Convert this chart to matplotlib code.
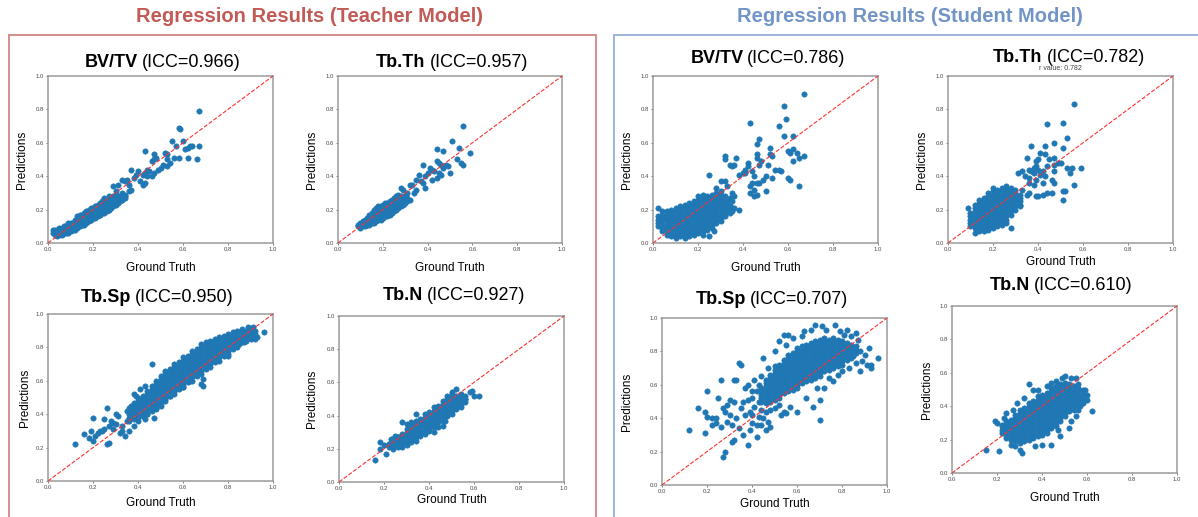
import matplotlib
matplotlib.use("Agg")
import matplotlib.pyplot as plt
from matplotlib.patches import Rectangle

# ------------------------------------------------------------------ data
group_titles = ["Regression Results (Teacher Model)", "Regression Results (Student Model)"]
metric_names = ["BV/TV", "Tb.Th", "Tb.Sp", "Tb.N"]
teacher_icc = [0.966, 0.957, 0.950, 0.927]
student_icc = [0.786, 0.782, 0.707, 0.610]
r_value_note = "r value: 0.782"
tick_values = [0.0, 0.2, 0.4, 0.6, 0.8, 1.0]
tick_labels = ["0.0", "0.2", "0.4", "0.6", "0.8", "1.0"]
x_label = "Ground Truth"
y_label = "Predictions"

# Dense cores: ground-truth column (hundredths) -> predicted values (hundredths)
# Sparse points: (ground truth, prediction)
bvtv_teacher_core = {
    2: [6, 8], 3: [5, 7, 8], 4: [4, 6, 8], 5: [5, 7, 9], 6: [5, 7, 9], 7: [6, 8, 10],
    8: [6, 8, 10], 9: [6, 8, 10, 12], 10: [7, 9, 11, 12], 11: [8, 10, 12], 12: [8, 10, 12, 14],
    13: [9, 11, 13, 16], 14: [10, 12, 14, 17], 15: [11, 13, 15, 17], 16: [11, 13, 15, 18],
    17: [12, 14, 16, 19], 18: [13, 15, 17, 20], 19: [14, 16, 18, 21], 20: [15, 17, 19, 21],
    21: [15, 17, 19, 22], 22: [16, 18, 20, 23], 23: [17, 19, 21, 24], 24: [18, 20, 22, 25],
    25: [18, 20, 22, 24, 27], 26: [19, 21, 23, 25], 27: [20, 22, 24, 26, 28], 28: [21, 23, 25, 27],
    29: [22, 24, 26, 28], 30: [23, 25, 27, 29], 31: [24, 26, 28], 32: [25, 27], 33: [26, 28], 34: [27, 29],
}
bvtv_teacher_sparse = [
    (0.67, 0.79), (0.58, 0.69), (0.585, 0.68), (0.55, 0.61), (0.60, 0.61), (0.57, 0.58), (0.62, 0.57),
    (0.63, 0.58), (0.64, 0.58), (0.67, 0.58), (0.61, 0.56), (0.66, 0.50), (0.62, 0.51), (0.58, 0.51),
    (0.56, 0.51), (0.52, 0.54), (0.53, 0.53), (0.53, 0.50), (0.54, 0.48), (0.53, 0.46), (0.51, 0.47),
    (0.43, 0.55), (0.47, 0.50), (0.46, 0.49), (0.48, 0.51), (0.47, 0.53), (0.44, 0.44), (0.45, 0.43),
    (0.43, 0.42), (0.42, 0.41), (0.40, 0.43), (0.39, 0.41), (0.38, 0.39), (0.37, 0.44), (0.41, 0.37),
    (0.42, 0.35), (0.43, 0.36), (0.46, 0.40), (0.47, 0.42), (0.44, 0.40), (0.50, 0.45), (0.49, 0.44),
    (0.33, 0.38), (0.34, 0.37), (0.35, 0.38), (0.31, 0.35), (0.29, 0.34), (0.36, 0.35), (0.37, 0.32),
    (0.36, 0.31), (0.33, 0.30), (0.34, 0.28), (0.30, 0.31),
]

tbth_teacher_core = {
    9: [10, 11], 10: [9, 11, 12], 11: [10, 12, 13], 12: [10, 12, 14], 13: [11, 13, 15],
    14: [11, 13, 15, 17], 15: [12, 14, 16, 18], 16: [12, 14, 16, 18, 20], 17: [13, 15, 17, 19, 21],
    18: [14, 16, 18, 20, 22], 19: [14, 16, 18, 20, 22], 20: [15, 17, 19, 21, 23],
    21: [16, 18, 20, 22, 24], 22: [16, 18, 20, 22, 24], 23: [17, 19, 21, 23, 25],
    24: [18, 20, 22, 24, 26], 25: [19, 21, 23, 25, 27], 26: [20, 22, 24, 26, 28],
    27: [21, 23, 25, 27, 29], 28: [22, 24, 26, 28], 29: [23, 25, 27], 30: [24, 26, 28], 31: [25, 27], 32: [26],
}
tbth_teacher_sparse = [
    (0.56, 0.70), (0.51, 0.61), (0.54, 0.57), (0.44, 0.56), (0.47, 0.55), (0.59, 0.54), (0.53, 0.50),
    (0.55, 0.48), (0.56, 0.47), (0.49, 0.46), (0.50, 0.42), (0.47, 0.45), (0.44, 0.49), (0.45, 0.48),
    (0.46, 0.47), (0.48, 0.47), (0.42, 0.44), (0.43, 0.43), (0.41, 0.45), (0.38, 0.47), (0.40, 0.42),
    (0.39, 0.40), (0.36, 0.41), (0.35, 0.38), (0.37, 0.37), (0.38, 0.36), (0.39, 0.33), (0.44, 0.39),
    (0.45, 0.42), (0.46, 0.41), (0.42, 0.38), (0.32, 0.35), (0.33, 0.35), (0.28, 0.33), (0.29, 0.32),
    (0.34, 0.30), (0.35, 0.32), (0.31, 0.30),
]

tbsp_teacher_core = {
    36: [36, 38, 40, 42, 44], 38: [37, 39, 41, 43, 45, 47], 40: [36, 38, 40, 42, 44, 46, 48, 50],
    42: [39, 41, 43, 45, 47, 49, 51], 44: [40, 42, 44, 46, 48, 50, 52, 54],
    46: [43, 45, 47, 49, 51, 53, 55, 57], 48: [44, 46, 48, 50, 52, 54, 56, 58, 60],
    50: [47, 49, 51, 53, 55, 57, 59, 61, 63], 52: [48, 50, 52, 54, 56, 58, 60, 62, 64, 66],
    54: [51, 53, 55, 57, 59, 61, 63, 65, 67], 56: [52, 54, 56, 58, 60, 62, 64, 66, 68, 70],
    58: [55, 57, 59, 61, 63, 65, 67, 69, 71], 60: [56, 58, 60, 62, 64, 66, 68, 70, 72, 74],
    62: [59, 61, 63, 65, 67, 69, 71, 73, 75], 64: [60, 62, 64, 66, 68, 70, 72, 74, 76, 78],
    66: [63, 65, 67, 69, 71, 73, 75, 77, 79], 68: [64, 66, 68, 70, 72, 74, 76, 78, 80, 82],
    70: [67, 69, 71, 73, 75, 77, 79, 81, 83], 72: [68, 70, 72, 74, 76, 78, 80, 82, 84],
    74: [71, 73, 75, 77, 79, 81, 83, 85], 76: [72, 74, 76, 78, 80, 82, 84, 86],
    78: [75, 77, 79, 81, 83, 85, 87], 80: [76, 78, 80, 82, 84, 86, 88], 82: [79, 81, 83, 85, 87, 89],
    84: [80, 82, 84, 86, 88, 90], 86: [83, 85, 87, 89, 91], 88: [84, 86, 88, 90], 90: [85, 87, 89, 91],
    92: [86, 88, 90],
}
tbsp_teacher_sparse = [
    (0.12, 0.22), (0.16, 0.28), (0.18, 0.26), (0.19, 0.30), (0.20, 0.38), (0.20, 0.24), (0.21, 0.27),
    (0.22, 0.29), (0.23, 0.30), (0.24, 0.30), (0.25, 0.31), (0.25, 0.37), (0.26, 0.44), (0.26, 0.22),
    (0.27, 0.23), (0.27, 0.33), (0.28, 0.36), (0.29, 0.35), (0.30, 0.40), (0.31, 0.39), (0.29, 0.31),
    (0.30, 0.34), (0.32, 0.29), (0.33, 0.33), (0.33, 0.30), (0.35, 0.36), (0.34, 0.27), (0.36, 0.30),
    (0.35, 0.42), (0.37, 0.45), (0.38, 0.52), (0.39, 0.51), (0.38, 0.33), (0.40, 0.45), (0.46, 0.70),
    (0.41, 0.55), (0.43, 0.57), (0.68, 0.58), (0.69, 0.57), (0.69, 0.61), (0.78, 0.76), (0.80, 0.75),
    (0.96, 0.89), (0.93, 0.86), (0.92, 0.85), (0.90, 0.87), (0.87, 0.83), (0.85, 0.82), (0.84, 0.82),
    (0.43, 0.37), (0.44, 0.40), (0.46, 0.42), (0.48, 0.43), (0.47, 0.38), (0.50, 0.45), (0.52, 0.49),
    (0.54, 0.51), (0.56, 0.54), (0.60, 0.56), (0.63, 0.60), (0.65, 0.66), (0.89, 0.92), (0.91, 0.92),
]

tbn_teacher_core = {
    22: [21, 23], 24: [20, 22, 24, 26], 26: [21, 23, 25, 27], 28: [21, 23, 25, 27, 29],
    30: [22, 24, 26, 28, 30, 32], 32: [24, 26, 28, 30, 32, 34], 34: [25, 27, 29, 31, 33, 35, 37],
    36: [28, 30, 32, 34, 36, 38], 38: [29, 31, 33, 35, 37, 39, 41], 40: [32, 34, 36, 38, 40, 42],
    42: [33, 35, 37, 39, 41, 43, 45], 44: [36, 38, 40, 42, 44, 46], 46: [37, 39, 41, 43, 45, 47, 49],
    48: [40, 42, 44, 46, 48, 50], 50: [41, 43, 45, 47, 49, 51, 53], 52: [44, 46, 48, 50, 52],
    54: [45, 47, 49, 51, 53], 56: [48, 50, 52],
}
tbn_teacher_sparse = [
    (0.16, 0.13), (0.18, 0.24), (0.18, 0.20), (0.21, 0.17), (0.20, 0.22), (0.22, 0.23), (0.23, 0.26),
    (0.34, 0.41), (0.62, 0.52), (0.60, 0.52), (0.59, 0.55), (0.58, 0.54), (0.56, 0.50), (0.55, 0.49),
    (0.48, 0.52), (0.50, 0.54), (0.52, 0.56), (0.47, 0.37), (0.46, 0.34), (0.42, 0.30), (0.40, 0.31),
    (0.44, 0.33), (0.28, 0.36), (0.30, 0.35), (0.32, 0.36), (0.26, 0.27), (0.25, 0.28),
]

bvtv_student_core = {
    2: [10, 12, 14, 16], 4: [7, 9, 11, 13, 15, 17, 19], 6: [5, 7, 9, 11, 13, 15, 17, 19],
    8: [4, 6, 8, 10, 12, 14, 16, 18, 20], 10: [3, 5, 7, 9, 11, 13, 15, 17, 19, 21],
    12: [4, 6, 8, 10, 12, 14, 16, 18, 20, 22], 14: [3, 5, 7, 9, 11, 13, 15, 17, 19, 21, 23],
    16: [4, 6, 8, 10, 12, 14, 16, 18, 20, 22, 24], 18: [5, 7, 9, 11, 13, 15, 17, 19, 21, 23, 25],
    20: [6, 8, 10, 12, 14, 16, 18, 20, 22, 24, 26, 28], 22: [7, 9, 11, 13, 15, 17, 19, 21, 23, 25, 27, 29],
    24: [8, 10, 12, 14, 16, 18, 20, 22, 24, 26, 28], 26: [9, 11, 13, 15, 17, 19, 21, 23, 25, 27, 29],
    28: [12, 14, 16, 18, 20, 22, 24, 26, 28, 30], 30: [13, 15, 17, 19, 21, 23, 25, 27, 29, 31],
    32: [16, 18, 20, 22, 24, 26, 28], 34: [19, 21, 23, 25, 27],
}
bvtv_student_sparse = [
    (0.67, 0.89), (0.58, 0.82), (0.59, 0.74), (0.43, 0.72), (0.56, 0.70), (0.58, 0.64), (0.62, 0.64),
    (0.47, 0.62), (0.46, 0.59), (0.52, 0.57), (0.60, 0.55), (0.62, 0.56), (0.61, 0.54), (0.64, 0.54),
    (0.65, 0.51), (0.67, 0.52), (0.52, 0.53), (0.53, 0.52), (0.46, 0.53), (0.46, 0.51), (0.37, 0.51),
    (0.32, 0.52), (0.32, 0.50), (0.48, 0.49), (0.47, 0.47), (0.62, 0.49), (0.42, 0.48), (0.42, 0.46),
    (0.34, 0.47), (0.35, 0.46), (0.36, 0.47), (0.41, 0.44), (0.41, 0.42), (0.38, 0.41), (0.40, 0.42),
    (0.44, 0.43), (0.45, 0.40), (0.50, 0.40), (0.53, 0.39), (0.51, 0.47), (0.54, 0.44), (0.56, 0.44),
    (0.57, 0.43), (0.60, 0.39), (0.61, 0.38), (0.65, 0.34), (0.49, 0.38), (0.47, 0.36), (0.46, 0.36),
    (0.44, 0.36), (0.43, 0.34), (0.45, 0.32), (0.43, 0.30), (0.46, 0.29), (0.45, 0.28), (0.50, 0.31),
    (0.25, 0.41), (0.30, 0.37), (0.32, 0.37), (0.28, 0.33), (0.33, 0.34), (0.35, 0.30), (0.36, 0.28),
    (0.35, 0.25), (0.36, 0.21), (0.35, 0.19), (0.34, 0.18), (0.38, 0.20), (0.33, 0.22), (0.02, 0.21),
    (0.22, 0.05), (0.25, 0.04), (0.27, 0.07),
]

tbth_student_core = {
    10: [10, 12, 14, 16, 18], 12: [9, 11, 13, 15, 17, 19, 21, 23], 14: [8, 10, 12, 14, 16, 18, 20, 22, 24, 26],
    16: [7, 9, 11, 13, 15, 17, 19, 21, 23, 25, 27], 18: [8, 10, 12, 14, 16, 18, 20, 22, 24, 26, 28, 30],
    20: [9, 11, 13, 15, 17, 19, 21, 23, 25, 27, 29, 31, 33], 22: [10, 12, 14, 16, 18, 20, 22, 24, 26, 28, 30, 32],
    24: [11, 13, 15, 17, 19, 21, 23, 25, 27, 29, 31, 33], 26: [14, 16, 18, 20, 22, 24, 26, 28, 30, 32, 34],
    28: [17, 19, 21, 23, 25, 27, 29, 31, 33], 30: [20, 22, 24, 26, 28, 30, 32], 32: [23, 25, 27, 29],
}
tbth_student_sparse = [
    (0.56, 0.83), (0.51, 0.72), (0.44, 0.71), (0.53, 0.63), (0.47, 0.60), (0.51, 0.57), (0.43, 0.58),
    (0.37, 0.58), (0.41, 0.54), (0.43, 0.53), (0.45, 0.50), (0.47, 0.51), (0.35, 0.51), (0.40, 0.50),
    (0.39, 0.49), (0.49, 0.48), (0.50, 0.48), (0.47, 0.47), (0.44, 0.46), (0.39, 0.46), (0.38, 0.45),
    (0.37, 0.43), (0.36, 0.44), (0.40, 0.44), (0.42, 0.43), (0.33, 0.43), (0.31, 0.42), (0.38, 0.42),
    (0.41, 0.41), (0.43, 0.40), (0.34, 0.40), (0.36, 0.39), (0.39, 0.38), (0.42, 0.36), (0.38, 0.35),
    (0.47, 0.43), (0.46, 0.38), (0.47, 0.36), (0.55, 0.45), (0.53, 0.45), (0.54, 0.42), (0.56, 0.35),
    (0.52, 0.31), (0.51, 0.31), (0.51, 0.26), (0.59, 0.45), (0.46, 0.30), (0.44, 0.30), (0.42, 0.29),
    (0.40, 0.28), (0.39, 0.28), (0.36, 0.30), (0.35, 0.29), (0.33, 0.32), (0.32, 0.22), (0.28, 0.09),
    (0.26, 0.12), (0.09, 0.21), (0.12, 0.06), (0.14, 0.07), (0.36, 0.36),
]

tbsp_student_core = {
    44: [50, 52, 54, 56, 58], 46: [49, 51, 53, 55, 57, 59, 61, 63], 48: [50, 52, 54, 56, 58, 60, 62, 64, 66],
    50: [51, 53, 55, 57, 59, 61, 63, 65, 67, 69, 71], 52: [52, 54, 56, 58, 60, 62, 64, 66, 68, 70, 72],
    54: [55, 57, 59, 61, 63, 65, 67, 69, 71, 73, 75], 56: [56, 58, 60, 62, 64, 66, 68, 70, 72, 74, 76, 78],
    58: [57, 59, 61, 63, 65, 67, 69, 71, 73, 75, 77, 79], 60: [58, 60, 62, 64, 66, 68, 70, 72, 74, 76, 78, 80, 82],
    62: [61, 63, 65, 67, 69, 71, 73, 75, 77, 79, 81, 83], 64: [62, 64, 66, 68, 70, 72, 74, 76, 78, 80, 82, 84],
    66: [63, 65, 67, 69, 71, 73, 75, 77, 79, 81, 83, 85], 68: [64, 66, 68, 70, 72, 74, 76, 78, 80, 82, 84, 86],
    70: [65, 67, 69, 71, 73, 75, 77, 79, 81, 83, 85, 87], 72: [68, 70, 72, 74, 76, 78, 80, 82, 84, 86, 88],
    74: [69, 71, 73, 75, 77, 79, 81, 83, 85, 87], 76: [70, 72, 74, 76, 78, 80, 82, 84, 86, 88],
    78: [71, 73, 75, 77, 79, 81, 83, 85, 87], 80: [72, 74, 76, 78, 80, 82, 84, 86],
    82: [75, 77, 79, 81, 83, 85], 84: [76, 78, 80, 82, 84], 86: [79, 81, 83],
}
tbsp_student_sparse = [
    (0.12, 0.33), (0.16, 0.46), (0.19, 0.31), (0.19, 0.44), (0.20, 0.41), (0.20, 0.56), (0.22, 0.36),
    (0.22, 0.40), (0.24, 0.37), (0.24, 0.40), (0.25, 0.52), (0.26, 0.63), (0.26, 0.35), (0.27, 0.46),
    (0.27, 0.17), (0.28, 0.20), (0.28, 0.44), (0.29, 0.38), (0.29, 0.48), (0.30, 0.42), (0.30, 0.51),
    (0.31, 0.36), (0.31, 0.26), (0.32, 0.27), (0.32, 0.63), (0.33, 0.63), (0.32, 0.50), (0.33, 0.40),
    (0.34, 0.34), (0.34, 0.73), (0.35, 0.72), (0.35, 0.46), (0.36, 0.50), (0.36, 0.30), (0.37, 0.58),
    (0.37, 0.42), (0.38, 0.60), (0.38, 0.51), (0.38, 0.24), (0.39, 0.33), (0.39, 0.44), (0.40, 0.56),
    (0.40, 0.52), (0.40, 0.42), (0.40, 0.37), (0.41, 0.63), (0.41, 0.47), (0.42, 0.56), (0.42, 0.36),
    (0.42, 0.29), (0.43, 0.60), (0.43, 0.50), (0.43, 0.41), (0.44, 0.65), (0.44, 0.45), (0.44, 0.36),
    (0.45, 0.76), (0.45, 0.40), (0.46, 0.33), (0.46, 0.44), (0.47, 0.70), (0.47, 0.38), (0.48, 0.35),
    (0.48, 0.45), (0.50, 0.80), (0.50, 0.46), (0.52, 0.48), (0.52, 0.86), (0.53, 0.42), (0.54, 0.44),
    (0.54, 0.90), (0.55, 0.84), (0.55, 0.43), (0.56, 0.90), (0.57, 0.47), (0.58, 0.88), (0.60, 0.44),
    (0.62, 0.89), (0.63, 0.92), (0.64, 0.52), (0.66, 0.93), (0.67, 0.47), (0.68, 0.96), (0.69, 0.58),
    (0.70, 0.39), (0.70, 0.51), (0.71, 0.95), (0.72, 0.58), (0.73, 0.93), (0.74, 0.64), (0.76, 0.62),
    (0.77, 0.96), (0.78, 0.66), (0.79, 0.92), (0.80, 0.68), (0.81, 0.90), (0.83, 0.70), (0.84, 0.89),
    (0.85, 0.77), (0.86, 0.73), (0.87, 0.87), (0.88, 0.80), (0.89, 0.74), (0.90, 0.78), (0.91, 0.72),
    (0.93, 0.72), (0.93, 0.70), (0.92, 0.82), (0.96, 0.76), (0.88, 0.68), (0.86, 0.91), (0.82, 0.93),
]

tbn_student_core = {
    22: [24, 26, 28], 24: [21, 23, 25, 27, 29, 31], 26: [20, 22, 24, 26, 28, 30, 32],
    28: [19, 21, 23, 25, 27, 29, 31, 33, 35], 30: [18, 20, 22, 24, 26, 28, 30, 32, 34, 36, 38],
    32: [19, 21, 23, 25, 27, 29, 31, 33, 35, 37, 39], 34: [20, 22, 24, 26, 28, 30, 32, 34, 36, 38, 40, 42],
    36: [21, 23, 25, 27, 29, 31, 33, 35, 37, 39, 41, 43], 38: [22, 24, 26, 28, 30, 32, 34, 36, 38, 40, 42, 44, 46],
    40: [23, 25, 27, 29, 31, 33, 35, 37, 39, 41, 43, 45, 47], 42: [24, 26, 28, 30, 32, 34, 36, 38, 40, 42, 44, 46, 48],
    44: [27, 29, 31, 33, 35, 37, 39, 41, 43, 45, 47, 49, 51], 46: [28, 30, 32, 34, 36, 38, 40, 42, 44, 46, 48, 50, 52],
    48: [31, 33, 35, 37, 39, 41, 43, 45, 47, 49, 51, 53], 50: [34, 36, 38, 40, 42, 44, 46, 48, 50, 52, 54],
    52: [37, 39, 41, 43, 45, 47, 49, 51, 53], 54: [38, 40, 42, 44, 46, 48, 50, 52], 56: [41, 43, 45, 47, 49, 51],
    58: [42, 44, 46, 48, 50],
}
tbn_student_sparse = [
    (0.15, 0.14), (0.21, 0.13), (0.19, 0.31), (0.20, 0.30), (0.22, 0.29), (0.23, 0.25), (0.24, 0.36),
    (0.23, 0.33), (0.27, 0.38), (0.26, 0.17), (0.28, 0.16), (0.31, 0.12), (0.30, 0.14), (0.34, 0.53),
    (0.37, 0.16), (0.40, 0.17), (0.44, 0.17), (0.47, 0.26), (0.48, 0.22), (0.52, 0.27), (0.53, 0.31),
    (0.55, 0.34), (0.56, 0.38), (0.58, 0.44), (0.60, 0.44), (0.60, 0.47), (0.62, 0.37), (0.59, 0.50),
    (0.56, 0.53), (0.55, 0.57), (0.53, 0.57), (0.50, 0.58), (0.49, 0.57), (0.36, 0.50), (0.38, 0.50),
    (0.42, 0.52), (0.44, 0.54), (0.46, 0.55), (0.32, 0.45), (0.29, 0.42), (0.30, 0.33), (0.26, 0.27),
    (0.57, 0.40), (0.54, 0.45),
]


def collect(core, sparse):
    xs, ys = [], []
    for cx, col in core.items():
        for cy in col:
            xs.append(cx / 100.0)
            ys.append(cy / 100.0)
    for px, py in sparse:
        xs.append(px)
        ys.append(py)
    return xs, ys


teacher_sets = [collect(bvtv_teacher_core, bvtv_teacher_sparse),
                collect(tbth_teacher_core, tbth_teacher_sparse),
                collect(tbsp_teacher_core, tbsp_teacher_sparse),
                collect(tbn_teacher_core, tbn_teacher_sparse)]
student_sets = [collect(bvtv_student_core, bvtv_student_sparse),
                collect(tbth_student_core, tbth_student_sparse),
                collect(tbsp_student_core, tbsp_student_sparse),
                collect(tbn_student_core, tbn_student_sparse)]

# ------------------------------------------------------------------ style / layout
W, H = 1198, 517
plt.rcParams["font.family"] = ["Liberation Sans", "DejaVu Sans"]

fig = plt.figure(figsize=(W / 100, H / 100), dpi=100)
fig.patch.set_facecolor("white")
renderer = fig.canvas.get_renderer()


def fx(x):
    return x / W


def fy(y):
    return 1 - y / H


# panel boxes in pixels: (left, top, right, bottom), title y, xlabel y, ylabel x, title x
teacher_layout = [
    ((48, 76, 273, 243), 63, 268, 22, 163),
    ((338, 76, 562, 243), 63, 268, 312, 452),
    ((48, 314, 273, 481), 297, 503, 25, 157),
    ((339, 316, 564, 482), 296, 500, 312, 454),
]
student_layout = [
    ((653, 76, 878, 243), 58, 268, 627, 768),
    ((948, 76, 1173, 243), 57, 262, 922, 1069),
    ((662, 318, 887, 485), 299, 504, 627, 772),
    ((952, 306, 1177, 473), 286, 498, 927, 1061),
]

dot_color = "#1f77b4"
spine_color = "#9a9a9a"
tick_color = "#4a4a4a"
TITLE_SIZE = 13


def mixed_title(cx, cy, bold_part, rest):
    gap = 0.22 * TITLE_SIZE * 100 / 72
    t1 = fig.text(0, fy(cy), bold_part, ha="left", va="center", fontsize=TITLE_SIZE, fontweight="bold")
    t2 = fig.text(0, fy(cy), rest, ha="left", va="center", fontsize=TITLE_SIZE)
    w1 = t1.get_window_extent(renderer).width
    w2 = t2.get_window_extent(renderer).width
    x0 = cx - (w1 + gap + w2) / 2
    t1.set_x(fx(x0))
    t2.set_x(fx(x0 + w1 + gap))


def draw_panel(box, data, name, icc, title_y, xlab_y, ylab_x, title_x):
    l, t, r, b = box
    ax = fig.add_axes([fx(l), fy(b), fx(r) - fx(l), (b - t) / H])
    xs, ys = data
    ax.scatter(xs, ys, s=15, color=dot_color, edgecolors=dot_color, linewidths=0.4, zorder=2)
    ax.plot([0, 1], [0, 1], linestyle="--", color="#ff3030", linewidth=0.8, zorder=3)
    ax.set_xlim(0, 1)
    ax.set_ylim(0, 1)
    ax.set_xticks(tick_values)
    ax.set_yticks(tick_values)
    ax.set_xticklabels(tick_labels)
    ax.set_yticklabels(tick_labels)
    ax.tick_params(labelsize=4.3, colors=tick_color, length=1.5, width=0.5, pad=1.5)
    for sp in ax.spines.values():
        sp.set_color(spine_color)
        sp.set_linewidth(1.1)
    mixed_title(title_x, title_y, name, f"(ICC={icc:.3f})")
    fig.text(fx((l + r) / 2), fy(xlab_y), x_label, ha="center", va="center", fontsize=8.5)
    fig.text(fx(ylab_x), fy((t + b) / 2), y_label, ha="center", va="center", rotation=90, fontsize=8.5)
    return ax


for i in range(4):
    box, ty, xy, yx, tx = teacher_layout[i]
    draw_panel(box, teacher_sets[i], metric_names[i], teacher_icc[i], ty, xy, yx, tx)
for i in range(4):
    box, ty, xy, yx, tx = student_layout[i]
    draw_panel(box, student_sets[i], metric_names[i], student_icc[i], ty, xy, yx, tx)

fig.text(fx(1060), fy(69), r_value_note, ha="center", va="center", fontsize=5, color="#444444")

# group frames and titles
fig.add_artist(Rectangle((fx(9), fy(530)), fx(596) - fx(9), (530 - 35) / H, transform=fig.transFigure,
                         fill=False, edgecolor="#d48e8b", linewidth=1.4, clip_on=False))
fig.add_artist(Rectangle((fx(614), fy(530)), fx(1220) - fx(614), (530 - 35) / H, transform=fig.transFigure,
                         fill=False, edgecolor="#9cb4db", linewidth=1.4, clip_on=False))
fig.text(fx(309), fy(17), group_titles[0], ha="center", va="center", fontsize=14.5,
         fontweight="bold", color="#c25a56")
fig.text(fx(910), fy(17), group_titles[1], ha="center", va="center", fontsize=14.5,
         fontweight="bold", color="#7294c7")

fig.savefig("out.png", dpi=100)
